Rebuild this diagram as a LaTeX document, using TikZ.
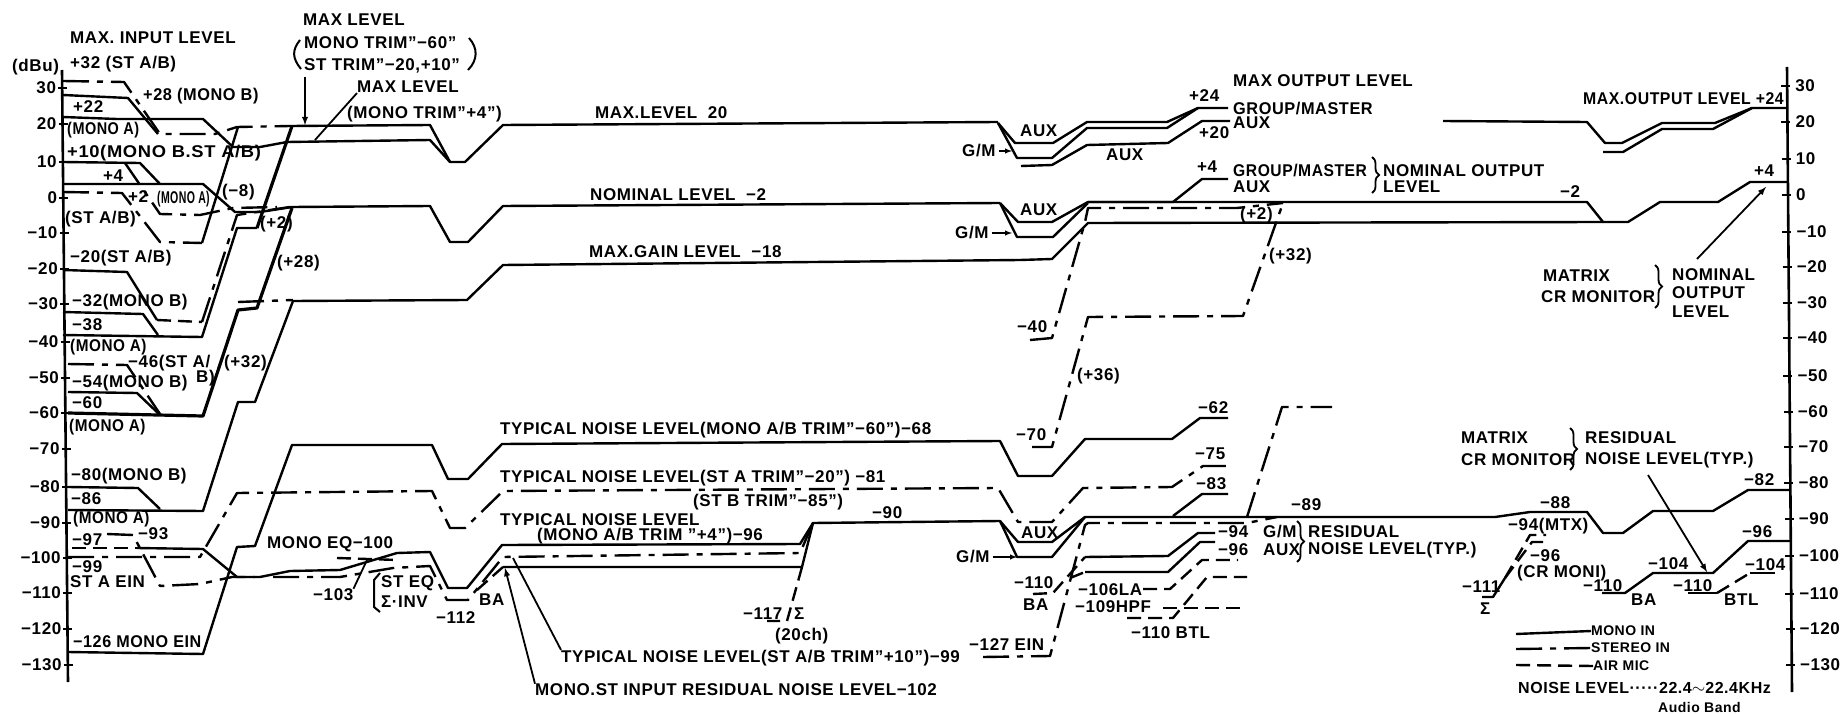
\documentclass[tikz,border=0pt]{standalone}
\usepackage{fontspec}
\setmainfont{Liberation Sans}[LetterSpace=3.5]
\usetikzlibrary{decorations.pathreplacing}
\tikzset{
  lab/.style={anchor=west, inner sep=0pt, font=\fontsize{17}{19}\selectfont\bfseries},
  tiny lab/.style={lab, font=\fontsize{14}{16}\selectfont\bfseries},
  lvl/.style={line width=2.4pt, line join=round},
  mono/.style={lvl},
  stereo/.style={lvl, dash pattern=on 26pt off 8pt on 6pt off 8pt},
  air/.style={lvl, dash pattern=on 14pt off 7pt},
  leader/.style={line width=1.8pt, ->, >=latex},
  plainleader/.style={line width=1.8pt},
  curly/.style={line width=1.8pt, decorate, decoration={brace, amplitude=7pt}},
}
\begin{document}
\begin{tikzpicture}[x=1pt, y=-1pt]
  \useasboundingbox (0,0) rectangle (1842,714);

  \draw[line width=2.6pt] (62,70) -- (68,682);
  \draw[line width=2.6pt] (1787,67) -- (1792,692);
  \foreach \lv/\yy in {30/88, 20/124, 10/162, 0/198, −10/233, −20/269, −30/304, −40/342,
      −50/378, −60/413, −70/449, −80/487, −90/523, −100/558, −110/593, −120/629, −130/665} {
    \pgfmathsetmacro\xx{62+(\yy-70)*0.0098}
    \draw[line width=2pt] (\xx-4,\yy) -- (\xx+5,\yy);
    \node[lab, anchor=east] (left\yy) at (\xx-6,\yy) {\lv};
  }
  \foreach \lv/\yy in {30/86, 20/122, 10/159, 0/195, −10/232, −20/267, −30/303, −40/338,
      −50/376, −60/412, −70/447, −80/483, −90/519, −100/556, −110/594, −120/629, −130/665} {
    \pgfmathsetmacro\xx{1787+(\yy-67)*0.008}
    \draw[line width=2pt] (\xx-6,\yy) -- (\xx+3,\yy);
    \node[lab] (right\yy) at (\xx+8,\yy) {\lv};
  }

  % input side, upper group
  \draw[stereo] (63,81) -- (124,82) -- (160,134) -- (215,134) -- (237,127) -- (290,126);
  \draw[mono] (63,95) -- (128,98) -- (158,134);
  \draw[mono] (63,117) -- (117,119) -- (203,119) -- (233,147) -- (260,147) -- (287,142) -- (430,140)
    -- (450,162) -- (465,162) -- (503,125) -- (998,122);
  \draw[mono] (202,243) -- (238,127);
  \draw[stereo] (63,192) -- (122,193) -- (160,242) -- (202,243);
  \draw[mono] (63,162) -- (140,163) -- (160,184);
  \draw[stereo] (125,163) -- (160,214) -- (200,215) -- (233,208) -- (277,207);
  \draw[mono] (63,184) -- (203,184) -- (235,212) -- (260,212) -- (292,207) -- (430,206)
    -- (450,242) -- (468,242) -- (503,206) -- (1000,203);

  % input side, middle group
  \draw[mono] (63,270) -- (127,272) -- (157,320);
  \draw[air] (157,320) -- (202,322);
  \draw[stereo] (202,322) -- (237,215) -- (290,207);
  \draw[mono] (63,312) -- (143,314) -- (158,335);
  \draw[mono] (63,335) -- (202,337) -- (237,228) -- (257,228);
  \draw[mono, line width=3.2pt] (257,228) -- (292,126);
  \draw[mono] (290,126) -- (430,125) -- (450,162);
  \draw[stereo] (68,364) -- (127,365) -- (160,414);
  \draw[mono] (68,392) -- (137,393) -- (160,415);
  \draw[mono, line width=3.2pt] (68,413) -- (203,416) -- (238,310) -- (257,308) -- (292,208);
  \draw[stereo] (238,302) -- (293,300);
  \draw[mono] (68,487) -- (138,488) -- (160,509);
  \draw[mono] (68,510) -- (203,511) -- (238,402) -- (255,402) -- (293,301) -- (467,300)
    -- (503,265) -- (1020,260) -- (1052,259) -- (1088,223) -- (1603,222);

  % input side, noise group
  \draw[mono] (68,652) -- (203,654) -- (237,547) -- (255,546) -- (292,445) -- (432,445)
    -- (448,479) -- (468,479) -- (502,444) -- (1000,441) -- (1018,476) -- (1052,476)
    -- (1085,439) -- (1172,439) -- (1200,418) -- (1228,418);
  \draw[stereo] (68,557) -- (200,557) -- (237,493) -- (432,491) -- (450,528) -- (465,528)
    -- (503,491) -- (998,488) -- (1018,522) -- (1052,522) -- (1083,488) -- (1172,487)
    -- (1203,466) -- (1230,466);
  \draw[stereo] (107,534) -- (133,535) -- (160,586) -- (200,584) -- (232,577) -- (255,577);
  \draw[air] (72,548) -- (137,548);
  \draw[mono] (137,548) -- (203,549) -- (237,577) -- (260,577) -- (290,571) -- (340,570)
    -- (397,553) -- (430,552) -- (448,588) -- (467,588) -- (502,545) -- (800,544) -- (813,523)
    -- (1000,521) -- (1017,557) -- (1052,557) -- (1085,517);
  \draw[air] (337,558) -- (398,560);
  \draw[stereo] (273,577) -- (340,577) -- (393,568) -- (430,566) -- (447,600) -- (468,600)
    -- (503,557) -- (800,553) -- (813,523);
  \draw[air] (477,590) -- (503,567);
  \draw[mono] (503,567) -- (802,567) -- (813,523);
  \draw[air] (802,567) -- (787,621) -- (767,621);

  % output group, upper
  \draw[mono] (998,123) -- (1015,143) -- (1053,143) -- (1087,122) -- (1167,122) -- (1198,108) -- (1228,108);
  \draw[mono] (998,123) -- (1017,158) -- (1052,158) -- (1087,128) -- (1167,128) -- (1198,108);
  \draw[mono] (1021,166) -- (1052,165) -- (1087,145) -- (1168,143) -- (1202,121) -- (1230,121);
  \draw[mono] (1000,203) -- (1018,222) -- (1052,222) -- (1088,202) -- (1173,202) -- (1202,179) -- (1228,179);
  \draw[mono] (1000,203) -- (1017,237) -- (1053,237) -- (1088,203);
  \draw[mono] (1088,202) -- (1587,202) -- (1603,222) -- (1628,222) -- (1660,202) -- (1718,202)
    -- (1750,182) -- (1788,182);
  \draw[mono] (1443,121) -- (1587,122) -- (1605,143) -- (1622,143) -- (1662,123) -- (1715,123)
    -- (1752,108) -- (1788,108);
  \draw[mono] (1603,152) -- (1623,152) -- (1662,129) -- (1713,129) -- (1752,108);
  \draw[stereo] (1030,340) -- (1052,338) -- (1085,222) -- (1088,208) -- (1237,208) -- (1283,203);
  \draw[stereo] (1032,447) -- (1052,447) -- (1088,317) -- (1243,316) -- (1283,203);

  % output group, noise
  \draw[mono] (1000,521) -- (1018,542) -- (1052,542) -- (1085,517) -- (1495,517) -- (1530,512)
    -- (1587,512) -- (1603,533) -- (1623,533) -- (1653,511) -- (1713,511) -- (1748,490) -- (1790,490);
  \draw[mono] (1173,516) -- (1202,494) -- (1228,494);
  \draw[air] (1033,594) -- (1053,593) -- (1085,557);
  \draw[mono] (1085,557) -- (1168,556) -- (1198,533) -- (1215,533);
  \draw[air] (1070,578) -- (1085,572);
  \draw[mono] (1085,572) -- (1168,572) -- (1200,542) -- (1215,542);
  \draw[stereo] (983,657) -- (1050,656) -- (1085,525) -- (1088,523) -- (1247,523) -- (1277,517);
  \draw[stereo] (1247,517) -- (1282,407) -- (1332,407);
  \draw[air] (1143,589) -- (1170,589) -- (1202,560) -- (1238,560);
  \draw[air] (1163,608) -- (1242,608);
  \draw[air] (1127,618) -- (1173,618) -- (1207,577) -- (1247,577);

  % matrix and monitor
  \draw[mono] (1482,597) -- (1493,597) -- (1505,578);
  \draw[air] (1505,578) -- (1530,535) -- (1546,535);
  \draw[air] (1505,578) -- (1532,542) -- (1545,542);
  \draw[mono] (1602,593) -- (1625,593) -- (1653,573) -- (1713,573) -- (1748,541) -- (1790,541);
  \draw[mono] (1688,593) -- (1717,593);
  \draw[air] (1717,593) -- (1750,573);
  \draw[mono] (1750,573) -- (1775,573);

  % labels, left
  \node[lab] (dbu) at (12,67) {(dBu)};
  \node[lab] (maxinput) at (70,38) {MAX. INPUT LEVEL};
  \node[lab] (inA) at (70,64) {+32 (ST A/B)};
  \node[lab] (inB) at (143,96) {\scalebox{.96}[1]{+28 (MONO B)}};
  \node[lab] (inC) at (73,107) {+22};
  \node[lab] (inD) at (67,130) {\scalebox{.85}[1]{(MONO A)}};
  \node[lab] (inE) at (67,153) {\scalebox{1.08}[1]{+10(MONO B.ST A/B)}};
  \node[lab] (inF) at (103,176) {+4};
  \node[lab] (inG) at (128,197) {+2};
  \node[lab] (inH) at (157,199) {\scalebox{.62}[1]{(MONO A)}};
  \node[lab] (inI) at (65,219) {(ST A/B)};
  \node[lab] (trimA) at (222,192) {(−8)};
  \node[lab] (trimB) at (260,224) {(+2)};
  \node[lab] (trimC) at (277,263) {(+28)};
  \node[lab] (inJ) at (70,258) {−20(ST A/B)};
  \node[lab] (inK) at (72,302) {−32(MONO B)};
  \node[lab] (inL) at (72,325) {−38};
  \node[lab] (inM) at (70,347) {\scalebox{.9}[1]{(MONO A)}};
  \node[lab] (inN) at (128,363) {−46(ST A/};
  \node[lab] (inO) at (196,378) {B)};
  \node[lab] (trimD) at (224,363) {(+32)};
  \node[lab] (inP) at (72,383) {−54(MONO B)};
  \node[lab] (inQ) at (72,403) {−60};
  \node[lab] (inR) at (69,427) {\scalebox{.9}[1]{(MONO A)}};
  \node[lab] (inS) at (71,476) {−80(MONO B)};
  \node[lab] (inT) at (71,499) {−86};
  \node[lab] (inU) at (73,519) {\scalebox{.9}[1]{(MONO A)}};
  \node[lab] (inV) at (72,540) {−97};
  \node[lab] (inW) at (138,534) {−93};
  \node[lab] (inX) at (72,567) {−99};
  \node[lab] (inY) at (70,582) {ST A EIN};
  \node[lab] (inZ) at (73,642) {\scalebox{.95}[1]{−126 MONO EIN}};

  % labels, top
  \node[lab] (maxA) at (303,20) {MAX LEVEL};
  \node[lab] (maxB) at (304,43) {MONO TRIM"−60"};
  \node[lab] (maxC) at (304,66) {ST TRIM"−20,+10"};
  \draw[line width=2pt] (300,40) .. controls (292,50) and (292,58) .. (301,69);
  \draw[line width=2pt] (469,38) .. controls (478,48) and (478,60) .. (468,70);
  \coordinate (maxAtip) at (305,125);
  \draw[leader] (305,77) -- (maxAtip);
  \node[lab] (maxD) at (357,87) {MAX LEVEL};
  \node[lab] (maxE) at (347,114) {(MONO TRIM"+4")};
  \coordinate (maxDtip) at (315,140);
  \draw[plainleader] (maxD.south west) -- (maxDtip);
  \node[lab] (lvlA) at (595,113) {MAX.LEVEL\ \ 20};
  \node[lab] (lvlB) at (590,195) {NOMINAL LEVEL\ \ −2};
  \node[lab] (lvlC) at (589,252) {MAX.GAIN LEVEL\ \ −18};

  % labels, noise middle
  \node[lab] (noiseA) at (500,430) {TYPICAL NOISE LEVEL(MONO A/B TRIM"−60")−68};
  \node[lab] (noiseB) at (500,478) {TYPICAL NOISE LEVEL(ST A TRIM"−20") −81};
  \node[lab] (noiseC) at (693,502) {(ST B TRIM"−85")};
  \node[lab] (noiseD) at (500,520) {TYPICAL NOISE LEVEL};
  \node[lab] (noiseE) at (537,536) {(MONO A/B TRIM "+4")−96};
  \node[lab] (noiseF) at (872,513) {−90};
  \node[lab] (noiseG) at (743,614) {−117};
  \node[lab] (noiseH) at (794,614) {Σ};
  \node[lab] (noiseI) at (775,636) {(20ch)};
  \node[lab] (noiseJ) at (561,658) {TYPICAL NOISE LEVEL(ST A/B TRIM"+10")−99};
  \node[lab] (noiseK) at (535,690) {MONO.ST INPUT RESIDUAL NOISE LEVEL−102};
  \coordinate (noiseJtip) at (513,558);
  \coordinate (noiseKtip) at (505,568);
  \draw[plainleader] (noiseJ.north west) -- (noiseJtip);
  \draw[leader] (noiseK.north west) -- (noiseKtip);
  \node[lab] (eqA) at (267,544) {MONO EQ−100};
  \node[lab] (eqB) at (313,595) {−103};
  \coordinate (eqBtip) at (367,560);
  \draw[plainleader] (eqB.north east) -- (eqBtip);
  \node[lab] (eqC) at (381,583) {ST EQ};
  \node[lab] (eqD) at (381,602) {Σ·INV};
  \draw[line width=2pt] (380,573) -- (374,580) -- (374,607) -- (380,612);
  \node[lab] (eqE) at (436,618) {−112};
  \node[lab] (eqF) at (479,600) {BA};

  % labels, output
  \node[lab] (gmA) at (962,151) {G/M};
  \node[lab] (gmB) at (955,233) {G/M};
  \node[lab] (gmC) at (956,557) {G/M};
  \coordinate (gmAtip) at (1012,151);
  \coordinate (gmBtip) at (1012,233);
  \coordinate (gmCtip) at (1017,557);
  \draw[leader, line width=1.4pt] (gmA.east) ++(3,0) -- (gmAtip);
  \draw[leader, line width=1.4pt] (gmB.east) ++(3,0) -- (gmBtip);
  \draw[leader, line width=1.4pt] (gmC.east) ++(3,0) -- (gmCtip);
  \node[lab] (auxA) at (1020,131) {AUX};
  \node[lab] (auxB) at (1106,155) {AUX};
  \node[lab] (auxC) at (1020,210) {AUX};
  \node[lab] (auxD) at (1021,533) {AUX};
  \node[lab] (outA) at (1189,96) {+24};
  \node[lab] (outB) at (1233,81) {MAX OUTPUT LEVEL};
  \node[lab] (outC) at (1233,109) {\scalebox{.96}[1]{GROUP/MASTER}};
  \node[lab] (outD) at (1233,123) {AUX};
  \node[lab] (outE) at (1199,133) {+20};
  \node[lab] (outF) at (1197,167) {+4};
  \node[lab] (outG) at (1233,171) {\scalebox{.92}[1]{GROUP/MASTER}};
  \node[lab] (outH) at (1233,187) {AUX};
  \coordinate (braceAtop) at (1372,157);
  \coordinate (braceAbot) at (1372,193);
  \draw[curly] (braceAtop) -- (braceAbot);
  \node[lab] (outI) at (1383,171) {NOMINAL OUTPUT};
  \node[lab] (outJ) at (1383,187) {LEVEL};
  \node[lab] (outK) at (1240,215) {(+2)};
  \node[lab] (outL) at (1269,256) {(+32)};
  \node[lab] (outM) at (1017,327) {−40};
  \node[lab] (outN) at (1077,376) {(+36)};
  \node[lab] (outO) at (1016,435) {−70};
  \node[lab] (outP) at (1198,408) {−62};
  \node[lab] (outQ) at (1195,454) {−75};
  \node[lab] (outR) at (1196,484) {−83};
  \node[lab] (outS) at (1291,505) {−89};
  \node[lab] (outT) at (1218,532) {−94};
  \node[lab] (outU) at (1263,532) {G/M};
  \node[lab] (outV) at (1218,550) {−96};
  \node[lab] (outW) at (1263,550) {AUX};
  \coordinate (braceBtop) at (1297,521);
  \coordinate (braceBbot) at (1297,562);
  \draw[curly] (braceBtop) -- (braceBbot);
  \node[lab] (outX) at (1308,532) {RESIDUAL};
  \node[lab] (outY) at (1308,550) {NOISE LEVEL(TYP.)};
  \node[lab] (outZ) at (1014,583) {−110};
  \node[lab] (busA) at (1023,605) {BA};
  \node[lab] (busB) at (1078,590) {−106LA};
  \node[lab] (busC) at (1075,607) {−109HPF};
  \node[lab] (busD) at (1131,633) {−110 BTL};
  \node[lab] (busE) at (969,645) {−127 EIN};

  % labels, right
  \node[lab] (mtxA) at (1583,99) {\scalebox{.93}[1]{MAX.OUTPUT LEVEL +24}};
  \node[lab] (mtxB) at (1560,192) {−2};
  \node[lab] (mtxC) at (1754,171) {+4};
  \node[lab] (mtxD) at (1543,276) {MATRIX};
  \node[lab] (mtxE) at (1541,297) {CR MONITOR};
  \coordinate (braceCtop) at (1655,265);
  \coordinate (braceCbot) at (1655,308);
  \draw[curly] (braceCtop) -- (braceCbot);
  \node[lab] (mtxF) at (1672,275) {NOMINAL};
  \node[lab] (mtxG) at (1672,293) {OUTPUT};
  \node[lab] (mtxH) at (1672,312) {LEVEL};
  \coordinate (mtxFtip) at (1766,187);
  \draw[leader] (1697,259) -- (mtxFtip);
  \node[lab] (mtxI) at (1461,438) {MATRIX};
  \node[lab] (mtxJ) at (1461,460) {CR MONITOR};
  \coordinate (braceDtop) at (1570,428);
  \coordinate (braceDbot) at (1570,470);
  \draw[curly] (braceDtop) -- (braceDbot);
  \node[lab] (mtxK) at (1585,438) {RESIDUAL};
  \node[lab] (mtxL) at (1585,460) {NOISE LEVEL(TYP.)};
  \coordinate (mtxLtip) at (1707,572);
  \draw[leader] (1648,475) -- (mtxLtip);
  \node[lab] (mtxM) at (1540,503) {−88};
  \node[lab] (mtxN) at (1508,526) {−94(MTX)};
  \node[lab] (mtxO) at (1530,556) {−96};
  \node[lab] (mtxP) at (1517,573) {(CR MONI)};
  \node[lab] (mtxQ) at (1462,587) {−111};
  \node[lab] (mtxR) at (1480,609) {Σ};
  \node[lab] (mtxS) at (1583,586) {−110};
  \node[lab] (mtxT) at (1631,600) {BA};
  \node[lab] (mtxU) at (1648,564) {−104};
  \node[lab] (mtxV) at (1673,586) {−110};
  \node[lab] (mtxW) at (1724,600) {BTL};
  \node[lab] (mtxX) at (1742,532) {−96};
  \node[lab] (mtxY) at (1745,565) {−104};
  \node[lab] (mtxZ) at (1744,480) {−82};

  % legend
  \node[tiny lab] (keyA) at (1591,631) {MONO IN};
  \node[tiny lab] (keyB) at (1591,648) {STEREO IN};
  \node[tiny lab] (keyC) at (1593,666) {AIR MIC};
  \node[tiny lab, font=\fontsize{16}{18}\selectfont\bfseries] (keyD) at (1518,688) {NOISE LEVEL·····22.4$\sim$22.4KHz};
  \node[tiny lab] (keyE) at (1658,707) {Audio Band};
  \coordinate (keyAend) at (1516,634);
  \coordinate (keyBend) at (1516,649);
  \coordinate (keyCend) at (1516,665);
  \draw[mono] (keyAend) -- (keyA.west);
  \draw[stereo] (keyBend) -- (keyB.west);
  \draw[air] (keyCend) -- (keyC.west);
\end{tikzpicture}
\end{document}
